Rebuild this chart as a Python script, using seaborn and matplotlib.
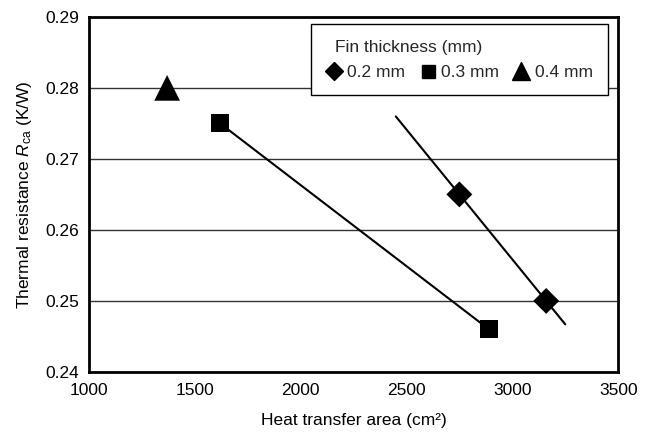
import numpy as np
import pandas as pd
import matplotlib
matplotlib.use("Agg")
import matplotlib.pyplot as plt
import seaborn as sns

# Data
area_02 = [2750, 3160]
rca_02 = [0.265, 0.250]
area_03 = [1620, 2890]
rca_03 = [0.275, 0.246]
area_04 = [1370]
rca_04 = [0.280]
trend_x_02 = [2450, 3250]   # extent of the fitted line for 0.2 mm
labels = ["0.2 mm", "0.3 mm", "0.4 mm"]
xticks = [1000, 1500, 2000, 2500, 3000, 3500]
yticks = [0.24, 0.25, 0.26, 0.27, 0.28, 0.29]

sns.set_theme(style="white")
plt.rcParams['font.family'] = ['Liberation Sans', 'DejaVu Sans']
plt.rcParams['mathtext.fontset'] = 'custom'
plt.rcParams['mathtext.rm'] = 'Liberation Sans'
plt.rcParams['mathtext.it'] = 'Liberation Sans:italic'

FS = 12.5

df = pd.DataFrame({
    "area": area_02 + area_03 + area_04,
    "rca": rca_02 + rca_03 + rca_04,
    "fin": [labels[0]] * len(area_02) + [labels[1]] * len(area_03) + [labels[2]] * len(area_04),
})

fig = plt.figure(figsize=(6.48, 4.32), dpi=100)
ax = fig.add_axes([0.137, 0.139, 0.817, 0.822])

# fitted line through 0.2 mm points, extended
coef = np.polyfit(area_02, rca_02, 1)
trend_df = pd.DataFrame({"area": trend_x_02, "rca": np.polyval(coef, trend_x_02)})
sns.lineplot(data=trend_df, x="area", y="rca", color="black", lw=1.5, ax=ax)
# line connecting the 0.3 mm points
sns.lineplot(data=df[df.fin == labels[1]], x="area", y="rca", color="black", lw=1.5, ax=ax)

marker_map = {labels[0]: ("D", 13.2), labels[1]: ("s", 13.0), labels[2]: ("^", 18.5)}
sns.scatterplot(data=df, x="area", y="rca", style="fin", size="fin",
                markers={l: marker_map[l][0] for l in labels},
                sizes={l: marker_map[l][1] ** 2 for l in labels},
                color="black", edgecolor="none", linewidth=0, ax=ax, legend=False, zorder=5)

ax.set_xlim(1000, 3500)
ax.set_ylim(0.24, 0.29)
ax.set_xticks(xticks)
ax.set_yticks(yticks)
ax.set_yticklabels([f"{v:.2f}" for v in yticks])
ax.yaxis.grid(True, color="#333333", lw=1.0)
ax.xaxis.grid(False)
ax.tick_params(axis="x", length=0, labelsize=FS, colors="black", pad=8)
ax.tick_params(axis="y", length=0, labelsize=FS, colors="black", pad=7)
for s in ax.spines.values():
    s.set_color("black")
    s.set_linewidth(2.0)
ax.set_xlabel("Heat transfer area (cm²)", fontsize=FS, color="black", labelpad=11)
ax.set_ylabel(r"Thermal resistance $\mathit{R}_{\mathrm{ca}}$ (K/W)", fontsize=FS,
              color="black", labelpad=8)

handles_small = []
for lab in labels:
    m, ms = marker_map[lab]
    h, = ax.plot([], [], linestyle="none", marker=m, ms=ms * 0.72, color="black")
    handles_small.append(h)
leg = ax.legend(handles_small, labels, title="Fin thickness (mm)", ncol=3,
                loc="upper right", bbox_to_anchor=(0.981, 0.979), frameon=True,
                fancybox=False, edgecolor="black", fontsize=FS, title_fontsize=FS,
                handletextpad=0.3, columnspacing=0.85, handlelength=0.9,
                borderpad=0.3, labelspacing=0.55, borderaxespad=0)
leg.get_frame().set_linewidth(1.0)
leg.get_frame().set_alpha(1)
leg._legend_box.align = "left"
leg._legend_box.pad = 0.9 * FS
leg._legend_box.sep = 0.55 * FS
leg.get_title().set_position((9, 0))
leg.set_zorder(10)

fig.savefig("out.png", dpi=100)
